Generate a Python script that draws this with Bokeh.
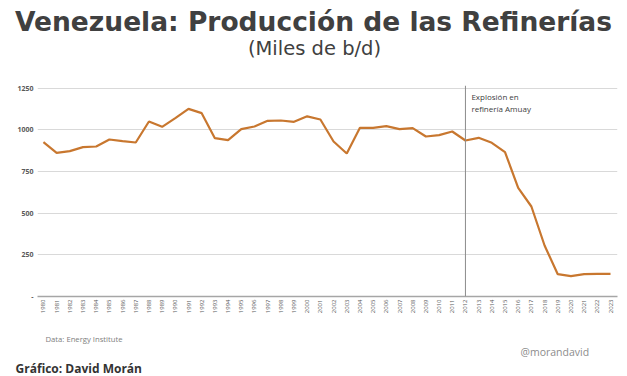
import math
from bokeh.plotting import figure
from bokeh.models import Label, Span, FixedTicker, Range1d
from bokeh.layouts import column
from bokeh.embed import file_html
from bokeh.resources import INLINE

years = list(range(1980, 2024))
production = [926, 862, 872, 896, 900, 942, 932, 924, 1050, 1018,
              1070, 1126, 1100, 950, 938, 1004, 1020, 1054, 1056, 1048,
              1081, 1062, 930, 858, 1012, 1012, 1022, 1004, 1010, 960,
              968, 990, 936, 952, 922, 866, 652, 540, 306, 134,
              122, 134, 136, 136]
y_ticks = [0, 250, 500, 750, 1000, 1250]
y_tick_labels = {0: "-", 250: "250", 500: "500", 750: "750", 1000: "1000", 1250: "1250"}
event_year = 2012
event_text = ["Explosión en", "refinería Amuay"]
title_text = "Venezuela: Producción de las Refinerías"
subtitle_text = "(Miles de b/d)"
source_text = "Data: Energy Institute"
handle_text = "@morandavid"
credit_text = "Gráfico: David Morán"

FONT = "Open Sans"
TFONT = "DejaVu Sans"
W = 627


def text_panel(h):
    f = figure(width=W, height=h, output_backend="svg", toolbar_location=None,
               x_range=Range1d(0, W), y_range=Range1d(h, 0),
               x_axis_location=None, y_axis_location=None, min_border=0)
    f.outline_line_color = None
    f.grid.grid_line_color = None
    f.background_fill_color = "white"
    f.border_fill_color = "white"
    if "frame_align" in f.properties():
        f.frame_align = False
    return f


# ---- header ----
HEADER_H = 80
header = text_panel(HEADER_H)
header.add_layout(Label(x=313, y=21, text=title_text, text_font=TFONT, text_font_size="26.5px",
                        text_font_style="bold", text_color="#404040",
                        text_align="center", text_baseline="middle"))
header.add_layout(Label(x=314, y=48, text=subtitle_text, text_font=TFONT, text_font_size="19.5px",
                        text_color="#404040", text_align="center", text_baseline="middle"))

# ---- main chart ----
p = figure(width=W, height=240, output_backend="svg", toolbar_location=None,
           x_range=Range1d(1979.55, 2023.53), y_range=Range1d(0, 1266),
           min_border_left=37, min_border_right=10, min_border_top=5, min_border_bottom=24)
p.outline_line_color = None
p.background_fill_color = "white"
p.border_fill_color = "white"
if "frame_align" in p.properties():
    p.frame_align = False

p.line(years, production, line_color="#C8772F", line_width=2.2)
p.add_layout(Span(location=event_year, dimension="height", line_color="#8c8c8c", line_width=1))

p.xgrid.grid_line_color = None
p.ygrid.ticker = FixedTicker(ticks=y_ticks[1:])
p.ygrid.grid_line_color = "#d9d9d9"
p.ygrid.grid_line_width = 1

p.yaxis.ticker = FixedTicker(ticks=y_ticks)
p.yaxis.major_label_overrides = y_tick_labels
p.yaxis.axis_line_color = None
p.yaxis.major_tick_line_color = None
p.yaxis.minor_tick_line_color = None
p.yaxis.major_tick_out = 0
p.yaxis.major_tick_in = 0
p.yaxis.major_label_text_font = FONT
p.yaxis.major_label_text_font_size = "7px"
p.yaxis.major_label_text_font_style = "bold"
p.yaxis.major_label_text_color = "#595959"
p.yaxis.major_label_standoff = 4

p.xaxis.ticker = FixedTicker(ticks=years)
p.xaxis.axis_line_color = "#a6a6a6"
p.xaxis.axis_line_width = 1.5
p.xaxis.major_tick_line_color = None
p.xaxis.minor_tick_line_color = None
p.xaxis.major_tick_out = 0
p.xaxis.major_tick_in = 0
p.xaxis.major_label_orientation = math.pi / 2
p.xaxis.major_label_text_font = FONT
p.xaxis.major_label_text_font_size = "6px"
p.xaxis.major_label_text_color = "#595959"
p.xaxis.major_label_standoff = 3

p.add_layout(Label(x=event_year + 0.45, y=1232, text=event_text[0], text_font=FONT,
                   text_font_size="8px", text_color="#404040", text_baseline="top"))
p.add_layout(Label(x=event_year + 0.45, y=1160, text=event_text[1], text_font=FONT,
                   text_font_size="8px", text_color="#404040", text_baseline="top"))

# ---- footer ----
FOOTER_H = 56
footer = text_panel(FOOTER_H)
footer.add_layout(Label(x=45, y=18, text=source_text, text_font=FONT, text_font_size="7.7px",
                        text_color="#808080", text_baseline="middle"))
footer.add_layout(Label(x=520, y=31, text=handle_text, text_font=FONT, text_font_size="10.5px",
                        text_color="#8c8c8c", text_baseline="middle"))
footer.add_layout(Label(x=15, y=48, text=credit_text, text_font=FONT, text_font_size="12px",
                        text_font_style="bold", text_color="#333333", text_baseline="middle"))

layout = column(header, p, footer, spacing=0)
open("out.html", "w").write(file_html(layout, INLINE))
